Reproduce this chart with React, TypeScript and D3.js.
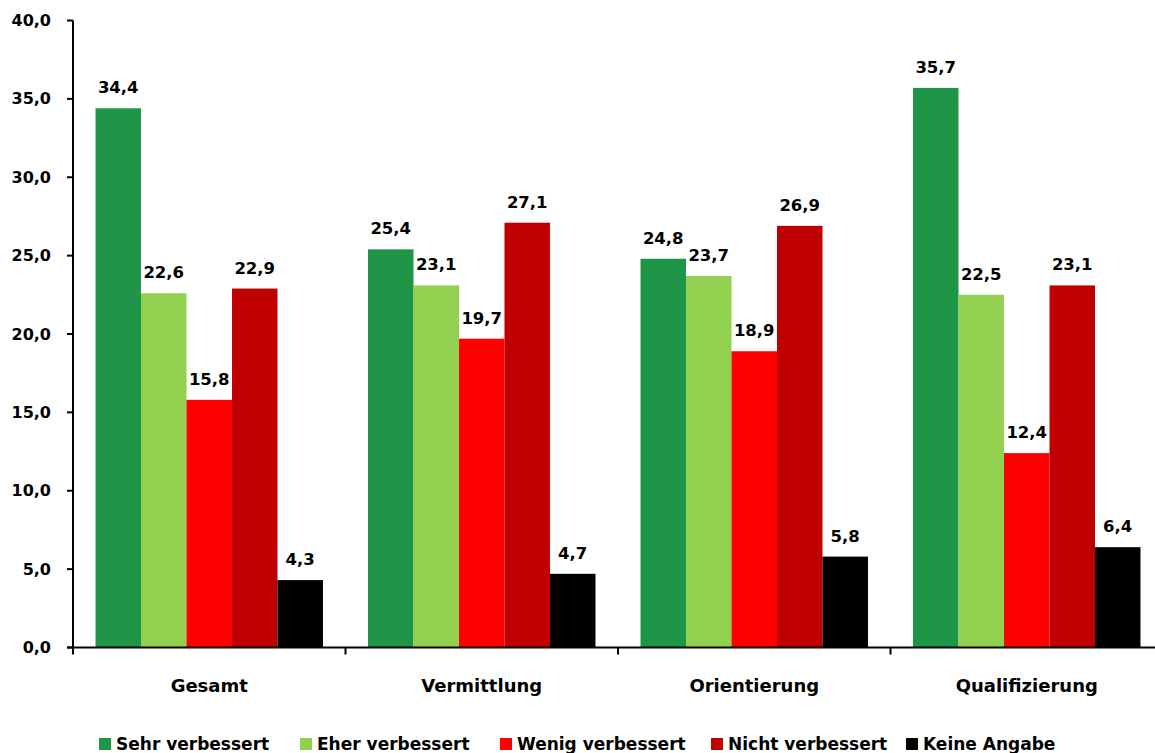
import React from "react";
import * as d3 from "d3";

const categories = ["Gesamt", "Vermittlung", "Orientierung", "Qualifizierung"];
const seriesNames = ["Sehr verbessert", "Eher verbessert", "Wenig verbessert", "Nicht verbessert", "Keine Angabe"];
const seriesColors = ["#1F9548", "#92D050", "#FF0000", "#C00000", "#000000"];
const sehr = [34.4, 25.4, 24.8, 35.7];
const eher = [22.6, 23.1, 23.7, 22.5];
const wenig = [15.8, 19.7, 18.9, 12.4];
const nicht = [22.9, 27.1, 26.9, 23.1];
const keine = [4.3, 4.7, 5.8, 6.4];
const yTicks = [0, 5, 10, 15, 20, 25, 30, 35, 40];

const series = [sehr, eher, wenig, nicht, keine];
const legendX = [99, 300, 500, 711, 906];

const FONT = "'DejaVu Sans', sans-serif";
const fmt = (v: number) => v.toFixed(1).replace(".", ",");

export default function App() {
  const W = 1155, H = 753;
  const x0 = 73, plotRight = 1163;
  const y = d3.scaleLinear().domain([0, 40]).range([647.5, 20.5]);
  const xg = d3.scaleBand().domain(categories).range([x0, plotRight]).paddingInner(0).paddingOuter(0);
  const xs = d3.scaleBand().domain(seriesNames).range([0, xg.bandwidth()]).paddingOuter(0.495).paddingInner(0);

  return (
    <svg width={W} height={H} style={{ position: "absolute", left: 0, top: 0, background: "#fff" }} fontFamily={FONT}>
      {categories.map((c, ci) =>
        seriesNames.map((s, si) => {
          const v = series[si][ci];
          const bx = (xg(c) as number) + (xs(s) as number);
          return (
            <g key={c + s}>
              <rect x={bx} y={y(v)} width={xs.bandwidth()} height={y(0) - y(v)} fill={seriesColors[si]} />
              <text x={bx + xs.bandwidth() / 2} y={y(v) - 15} textAnchor="middle" fontSize={16.5} fontWeight="bold" fill="#000">
                {fmt(v)}
              </text>
            </g>
          );
        })
      )}
      {/* y axis */}
      <line x1={x0} x2={x0} y1={y(40)} y2={y(0)} stroke="#000" strokeWidth={2} />
      {yTicks.map((t) => (
        <g key={t}>
          <line x1={x0 - 6} x2={x0} y1={y(t)} y2={y(t)} stroke="#000" strokeWidth={2} />
          <text x={51} y={y(t)} dy="0.35em" textAnchor="end" fontSize={16} fontWeight="bold" fill="#000">
            {fmt(t)}
          </text>
        </g>
      ))}
      {/* x axis */}
      <line x1={x0 - 6} x2={W} y1={y(0)} y2={y(0)} stroke="#000" strokeWidth={2} />
      {categories.map((c) => (
        <line key={"t" + c} x1={(xg(c) as number)} x2={(xg(c) as number)} y1={y(0)} y2={y(0) + 7} stroke="#000" strokeWidth={2} />
      ))}
      {categories.map((c) => (
        <text key={"l" + c} x={(xg(c) as number) + xg.bandwidth() / 2} y={686} dy="0.35em" textAnchor="middle" fontSize={18} fontWeight="bold" fill="#000">
          {c}
        </text>
      ))}
      {/* legend */}
      {seriesNames.map((s, i) => (
        <g key={"lg" + s}>
          <rect x={legendX[i]} y={738} width={12} height={12} fill={seriesColors[i]} />
          <text x={legendX[i] + 17} y={744} dy="0.35em" fontSize={17} fontWeight="bold" fill="#000">
            {s}
          </text>
        </g>
      ))}
    </svg>
  );
}
